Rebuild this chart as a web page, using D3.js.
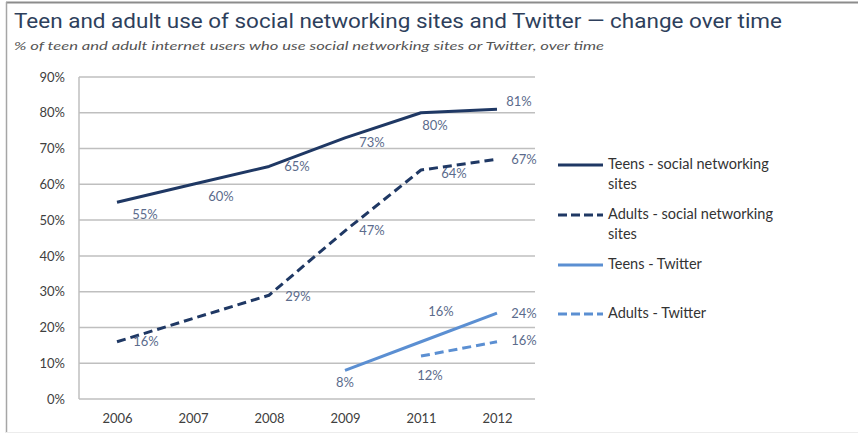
<!DOCTYPE html>
<html>
<head>
<meta charset="utf-8">
<script src="https://cdn.jsdelivr.net/npm/d3@7"></script>
<style>
  body { margin: 0; background: #fff; }
  svg { display: block; }
  text { font-family: Lato, "Open Sans", sans-serif; }
</style>
</head>
<body>
<div id="chart"></div>
<script>
var width = 858,
    height = 438

// data
var years = ["2006", "2007", "2008", "2009", "2011", "2012"]
var teensSocial = [55, 60, 65, 73, 80, 81]
var adultsSocial = [16, null, 29, 47, 64, 67]
var teensTwitter = [null, null, null, 8, 16, 24]
var adultsTwitter = [null, null, null, null, 12, 16]
var yTicks = [0, 10, 20, 30, 40, 50, 60, 70, 80, 90]
var seriesNames = ["Teens - social networking sites", "Adults - social networking sites", "Teens - Twitter", "Adults - Twitter"]

// where each data label sits relative to its point (hand placed in the original)
var labelShift = [
  [[28, 13], [28, 13], [28, 1], [27, 6], [14, 14], [22, -6]],
  [[29, 1], null, [29, 2], [27, 1], [33, 5], [27, 1]],
  [null, null, null, [0, 13], [20, -29], [27, 2]],
  [null, null, null, null, [9, 21], [27, 0]]
]

var series = [
  {name: seriesNames[0], values: teensSocial, color: "#1f3864", dash: null},
  {name: seriesNames[1], values: adultsSocial, color: "#1f3864", dash: "9,5"},
  {name: seriesNames[2], values: teensTwitter, color: "#5b8fd2", dash: null},
  {name: seriesNames[3], values: adultsTwitter, color: "#5b8fd2", dash: "9,5"}
]

var svg = d3.select("#chart")
    .append("svg")
    .attr("width", width)
    .attr("height", height)

// frame
svg.append("line").attr("x1", 6).attr("x2", width).attr("y1", 2.5).attr("y2", 2.5)
    .style("stroke", "#8c8c8c").style("stroke-width", 2)
svg.append("line").attr("x1", 6.5).attr("x2", 6.5).attr("y1", 2).attr("y2", 433)
    .style("stroke", "#a6a6a6").style("stroke-width", 1.5)
svg.append("line").attr("x1", 6).attr("x2", width).attr("y1", 432.5).attr("y2", 432.5)
    .style("stroke", "#ececec").style("stroke-width", 1)

// titles
svg.append("text").attr("x", 14).attr("y", 28)
    .text("Teen and adult use of social networking sites and Twitter \u2014 change over time")
    .attr("textLength", 768).attr("lengthAdjust", "spacingAndGlyphs")
    .style("font-family", "Roboto, sans-serif")
    .style("font-size", "21px").style("font-weight", 400).style("fill", "#2e3f5c")
svg.append("text").attr("x", 14).attr("y", 50)
    .text("% of teen and adult internet users who use social networking sites or Twitter, over time")
    .attr("textLength", 590).attr("lengthAdjust", "spacingAndGlyphs")
    .style("font-size", "11.5px").style("font-style", "italic").style("fill", "#555")

var x = d3.scalePoint().domain(years).range([79, 535]).padding(0.5)
var y = d3.scaleLinear().domain([0, 90]).range([399, 77])

// grid
svg.append("g").selectAll("line").data(yTicks).join("line")
    .attr("x1", 79).attr("x2", 535)
    .attr("y1", d => y(d)).attr("y2", d => y(d))
    .style("stroke", "#bfbfbf").style("stroke-width", 1.5)
svg.append("line").attr("x1", 79).attr("x2", 79).attr("y1", y(90)).attr("y2", y(0))
    .style("stroke", "#bfbfbf").style("stroke-width", 1.5)

// axes (only labels shown)
svg.append("g").attr("transform", "translate(79,0)")
    .call(d3.axisLeft(y).tickValues(yTicks).tickFormat(d => d + "%").tickSize(0).tickPadding(14))
svg.append("g").attr("transform", "translate(0,399)")
    .call(d3.axisBottom(x).tickSize(0).tickPadding(15))
svg.selectAll(".domain").remove()
svg.selectAll(".tick text").style("font-family", "Lato, sans-serif")
    .style("font-size", "13px").style("fill", "#404040")

// lines
var line = d3.line()
    .x(d => x(d.year))
    .y(d => y(d.value))

series.forEach(function(s, i) {
  var pts = years.map((yr, j) => ({year: yr, value: s.values[j], k: j}))
      .filter(d => d.value != null)
  svg.append("path").datum(pts)
      .attr("d", line)
      .style("fill", "none")
      .style("stroke", s.color)
      .style("stroke-width", 3)
      .style("stroke-linejoin", "round")
      .style("stroke-dasharray", s.dash)

  svg.append("g").selectAll("text").data(pts).join("text")
      .attr("x", d => x(d.year) + labelShift[i][d.k][0])
      .attr("y", d => y(d.value) + labelShift[i][d.k][1])
      .attr("text-anchor", "middle")
      .attr("dominant-baseline", "middle")
      .text(d => d.value + "%")
      .style("font-size", "13px").style("fill", "#5b6b8c")
})

// legend
var legendY = [165, 215, 265, 314]
series.forEach(function(s, i) {
  svg.append("line").attr("x1", 558).attr("x2", 603)
      .attr("y1", legendY[i]).attr("y2", legendY[i])
      .style("stroke", s.color).style("stroke-width", 3)
      .style("stroke-dasharray", s.dash ? "9,4" : null)
  var words = s.name.split(" sites")
  var t = svg.append("text").attr("x", 608).attr("y", legendY[i])
      .attr("dominant-baseline", "middle")
      .style("font-size", "14.5px").style("fill", "#333")
  if (words.length > 1) {
    t.append("tspan").attr("x", 608).text(words[0])
    t.append("tspan").attr("x", 608).attr("dy", 20).text("sites")
  } else {
    t.text(s.name)
  }
})
</script>
</body>
</html>
